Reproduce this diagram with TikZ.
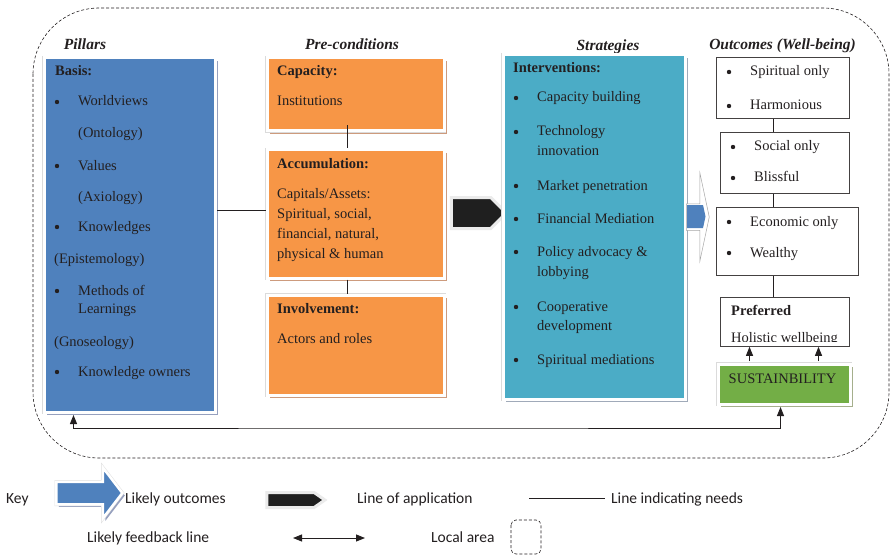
\documentclass[tikz,border=0pt]{standalone}
\usepackage{fontspec}
\setmainfont{Liberation Serif}
\newfontfamily\keyfont{Carlito}
\usetikzlibrary{shapes.symbols,shapes.arrows,shadows,arrows.meta}
\definecolor{pblue}{RGB}{79,129,189}
\definecolor{porange}{RGB}{247,150,70}
\definecolor{pteal}{RGB}{75,172,198}
\definecolor{pgreen}{RGB}{115,174,70}
\definecolor{shblue}{RGB}{150,160,190}
\definecolor{shorange}{RGB}{205,155,125}
\definecolor{shteal}{RGB}{160,170,185}
\definecolor{shgreen}{RGB}{165,175,140}
\definecolor{txtc}{RGB}{35,31,32}
\begin{document}
\begin{tikzpicture}[x=1pt,y=-1pt,
  framed/.style={draw=white, line width=3pt, inner sep=0pt, anchor=north west,
    drop shadow={shadow xshift=3pt, shadow yshift=-3pt, fill=#1, opacity=1},
    preaction={draw=black!14, line width=4pt}},
  outbox/.style={draw=txtc!85, line width=0.8pt, fill=white, inner sep=0pt, anchor=north west},
  t/.style={anchor=base west, inner sep=0pt, text=txtc, font=\fontsize{14.5}{17}\selectfont},
  tb/.style={anchor=base west, inner sep=0pt, text=txtc, font=\fontsize{14.5}{17}\selectfont\bfseries},
  ttl/.style={anchor=base, inner sep=0pt, text=txtc, font=\fontsize{15.5}{18}\selectfont\bfseries\itshape},
  kt/.style={anchor=base west, inner sep=0pt, text=txtc, font=\keyfont\fontsize{15.5}{18}\selectfont},
  need/.style={draw=txtc, line width=0.8pt},
  fb/.style={draw=txtc, line width=0.9pt},
  tip/.style={-{Triangle[length=9pt,width=7pt]}},
  bitip/.style={{Triangle[length=9pt,width=7pt]}-{Triangle[length=9pt,width=7pt]}},
  bul/.style={circle, fill=txtc, inner sep=0pt, minimum size=4.4pt},
  localline/.style={draw=txtc, line width=0.6pt, dash pattern=on 3pt off 2pt}
]
\useasboundingbox (0,0) rectangle (890,556);
\fill[white] (0,0) rectangle (890,556);

% local area
\draw[localline, rounded corners=66pt] (33,8) rectangle (889,458);

% titles
\node[ttl] (tpil) at (85,50) {Pillars};
\node[ttl] (tpre) at (352,50) {Pre-conditions};
\node[ttl] (tstr) at (608,51) {Strategies};
\node[ttl] (tout) at (782.5,50) {Outcomes (Well-being)};

% pillars
\node[framed=shblue, fill=pblue, minimum width=171pt, minimum height=354pt] (pil) at (42.5,56.5) {};
\node[tb] (pbasis) at (55,76) {Basis:};
\node[bul] (pb1) at (57,102) {}; \node[t] (p1) at (78,106) {Worldviews};
\node[t] (p1b) at (78,138) {(Ontology)};
\node[bul] (pb2) at (57,166) {}; \node[t] (p2) at (78,170) {Values};
\node[t] (p2b) at (78,201) {(Axiology)};
\node[bul] (pb3) at (57,227) {}; \node[t] (p3) at (78,231) {Knowledges};
\node[t] (p3b) at (54,263) {(Epistemology)};
\node[bul] (pb4) at (57,291) {}; \node[t] (p4) at (78,295) {Methods of};
\node[t] (p4b) at (78,313) {Learnings};
\node[t] (p4c) at (54,346) {(Gnoseology)};
\node[bul] (pb5) at (57,372) {}; \node[t] (p5) at (78,376) {Knowledge owners};

% pre-conditions
\node[framed=shorange, fill=porange, minimum width=177pt, minimum height=73pt] (cap) at (265.5,56.5) {};
\node[tb] (capt) at (277,76) {Capacity:};
\node[t] (capi) at (277,106) {Institutions};
\node[framed=shorange, fill=porange, minimum width=177pt, minimum height=128pt] (acc) at (265.5,148.5) {};
\node[tb] (acct) at (277,168) {Accumulation:};
\node[t] (acc1) at (277,198) {Capitals/Assets:};
\node[t] (acc2) at (277,218) {Spiritual, social,};
\node[t] (acc3) at (277,238) {financial, natural,};
\node[t] (acc4) at (277,258) {physical \& human};
\node[framed=shorange, fill=porange, minimum width=177pt, minimum height=100pt] (inv) at (265.5,293.5) {};
\node[tb] (invt) at (277,313) {Involvement:};
\node[t] (inv1) at (277,343) {Actors and roles};

\draw[need] ([xshift=-8pt,yshift=7pt]cap.south) -- ([xshift=-8pt]acc.north);
\draw[need] ([xshift=-8pt]acc.south) -- ([xshift=-8pt]inv.north);
\draw[need] ([yshift=3.5pt]acc.west) -- ([yshift=3.5pt]acc.west -| pil.east);

% line of application arrow
\node[signal, signal to=east, signal pointer angle=90, fill=black!88, draw=black!8, line width=3pt,
  minimum width=55pt, minimum height=31pt, inner sep=0pt] (app) at (471,213) {};

% strategies
\node[framed=shteal, fill=pteal, minimum width=182pt, minimum height=344pt] (str) at (501.5,53.5) {};
\node[tb] (strt) at (513,73) {Interventions:};
\node[bul] (sb1) at (516,98) {}; \node[t] (s1) at (537,102) {Capacity building};
\node[bul] (sb2) at (516,132) {}; \node[t] (s2) at (537,136) {Technology};
\node[t] (s2b) at (537,156) {innovation};
\node[bul] (sb3) at (516,186) {}; \node[t] (s3) at (537,190) {Market penetration};
\node[bul] (sb4) at (516,219) {}; \node[t] (s4) at (537,223) {Financial Mediation};
\node[bul] (sb5) at (516,252) {}; \node[t] (s5) at (537,256) {Policy advocacy \&};
\node[t] (s5b) at (537,276) {lobbying};
\node[bul] (sb6) at (516,307) {}; \node[t] (s6) at (537,311) {Cooperative};
\node[t] (s6b) at (537,330) {development};
\node[bul] (sb7) at (516,360) {}; \node[t] (s7) at (537,364) {Spiritual mediations};

% likely outcome arrow (middle)
\node[single arrow, anchor=west, fill=white, draw=black!35, line width=0.5pt,
  minimum height=23pt, inner xsep=0pt, inner ysep=13pt, single arrow head extend=31pt,
  single arrow tip angle=156] (outarr) at (686,217) {};
\fill[pblue] (687,205) -- (703,205) -- (705.5,216.5) -- (703,228) -- (687,228) -- cycle;

% outcomes
\node[outbox, minimum width=133pt, minimum height=61pt] (o1) at (716,57) {};
\node[bul] (ob1) at (729,72) {}; \node[t] (o1a) at (750,76) {Spiritual only};
\node[bul] (ob2) at (729,106) {}; \node[t] (o1b) at (750,110) {Harmonious};
\node[outbox, minimum width=129pt, minimum height=61pt] (o2) at (720,132) {};
\node[bul] (ob3) at (733,147) {}; \node[t] (o2a) at (754,151) {Social only};
\node[bul] (ob4) at (733,178) {}; \node[t] (o2b) at (754,182) {Blissful};
\node[outbox, minimum width=142pt, minimum height=68pt] (o3) at (716,207) {};
\node[bul] (ob5) at (729,222) {}; \node[t] (o3a) at (750,226) {Economic only};
\node[bul] (ob6) at (729,253) {}; \node[t] (o3b) at (750,257) {Wealthy};
\node[outbox, minimum width=129pt, minimum height=49pt] (o4) at (720,297) {};
\node[tb] (o4a) at (731,315) {Preferred};
\begin{scope}
\clip ([yshift=5.5pt]o4.south west) rectangle (o4.north east);
\node[t] (o4b) at (731,342) {Holistic wellbeing};
\end{scope}

\draw[need] ([xshift=-9.5pt]o1.south) -- ([xshift=-9.5pt]o1.south |- o2.north);
\draw[need] ([xshift=-9.5pt]o1.south |- o2.south) -- ([xshift=-9.5pt]o1.south |- o3.north);
\draw[need] ([xshift=-9.5pt]o1.south |- o3.south) -- ([xshift=-9.5pt]o1.south |- o4.north);

% sustainability
\node[framed=shgreen, fill=pgreen, minimum width=132pt, minimum height=40pt] (sus) at (716.5,362.5) {};
\node[anchor=base, inner sep=0pt, text=txtc, font=\fontsize{14.5}{17}\selectfont] (sust) at (782.5,383) {SUSTAINBILITY};
\draw[fb, tip, shorten <=1.5pt] ([xshift=-34.5pt]sus.north) -- ([xshift=-34.5pt]sus.north |- o4.south);
\draw[fb, tip, shorten <=1.5pt] ([xshift=34.5pt]sus.north) -- ([xshift=34.5pt]sus.north |- o4.south);

% feedback line
\coordinate (fbc) at (400,428);
\draw[fb, bitip, shorten <=1.5pt, shorten >=1.5pt]
  ([xshift=-56pt]pil.south) |- (fbc) -| ([xshift=-3.5pt]sus.south);

% key
\node[kt] (key) at (6,503) {Key};
\node[single arrow, fill=pblue, draw=white, line width=2.5pt, minimum height=66pt,
  inner xsep=0pt, inner ysep=10pt, single arrow head extend=14pt, single arrow tip angle=105,
  drop shadow={shadow xshift=2.5pt, shadow yshift=-2.5pt, fill=shblue, opacity=1},
  preaction={draw=black!12, line width=3.5pt}] (karr) at (85,493) {};
\node[kt] (k1) at (125,503) {Likely outcomes};
\node[signal, signal to=east, signal pointer angle=70, fill=black!88, draw=black!8, line width=3pt,
  minimum width=58pt, minimum height=15pt, inner sep=0pt] (kapp) at (290.5,500) {};
\node[kt] (k2) at (357,503) {Line of application};
\coordinate (kn1) at (529,498.5);
\coordinate (kn2) at (605,498.5);
\draw[need] (kn1) -- (kn2);
\node[kt] (k3) at (611,503) {Line indicating needs};
\node[kt] (k4) at (87,542) {Likely feedback line};
\coordinate (kf1) at (293,538);
\coordinate (kf2) at (365,538);
\draw[fb, bitip] (kf1) -- (kf2);
\node[kt] (k5) at (431,542) {Local area};
\draw[localline, rounded corners=5pt] (511,520) rectangle (541,554);
\end{tikzpicture}
\end{document}
